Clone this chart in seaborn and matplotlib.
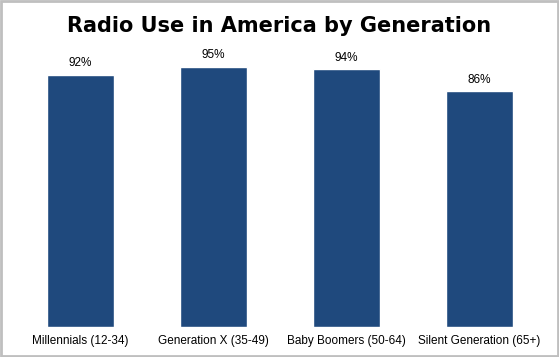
import matplotlib
matplotlib.use('Agg')
import matplotlib.pyplot as plt
import seaborn as sns
import pandas as pd

# chart data
generations = ['Millennials (12-34)', 'Generation X (35-49)',
               'Baby Boomers (50-64)', 'Silent Generation (65+)']
radio_use = [92, 95, 94, 86]

df = pd.DataFrame({'generation': generations, 'pct': radio_use})

sns.set_style('white')
plt.rcParams['font.family'] = ['Liberation Sans', 'DejaVu Sans']
plt.rcParams['text.color'] = 'black'
plt.rcParams['xtick.color'] = 'black'

fig = plt.figure(figsize=(5.59, 3.57), dpi=100)
ax = fig.add_axes([14 / 559, 1 - 327 / 357, 532 / 559, 274 / 357])

sns.barplot(data=df, x='generation', y='pct', color='#1F497D', saturation=1,
            width=0.5, ax=ax)

ax.set_ylim(0, 100)
ax.set_xlim(-0.5, 3.5)
for p, v in zip(ax.patches, radio_use):
    ax.annotate(f'{v}%', (p.get_x() + p.get_width() / 2, v), xytext=(0, 4),
                textcoords='offset points', ha='center', va='bottom', fontsize=8.5)

ax.set_xlabel('')
ax.set_ylabel('')
ax.set_yticks([])
ax.tick_params(axis='x', length=0, labelsize=8.5, pad=6)
sns.despine(ax=ax, left=True, top=True, right=True, bottom=True)

fig.text(0.5, 1 - 26 / 357, 'Radio Use in America by Generation', ha='center',
         va='center', fontsize=15, fontweight='bold', family=['DejaVu Sans'])

# grey frame round the picture
fig.patches.append(plt.Rectangle((0.002, 0.003), 0.996, 0.994, transform=fig.transFigure,
                                 fill=False, edgecolor='#BFBFBF', linewidth=2))

fig.savefig('out.png', dpi=100)
